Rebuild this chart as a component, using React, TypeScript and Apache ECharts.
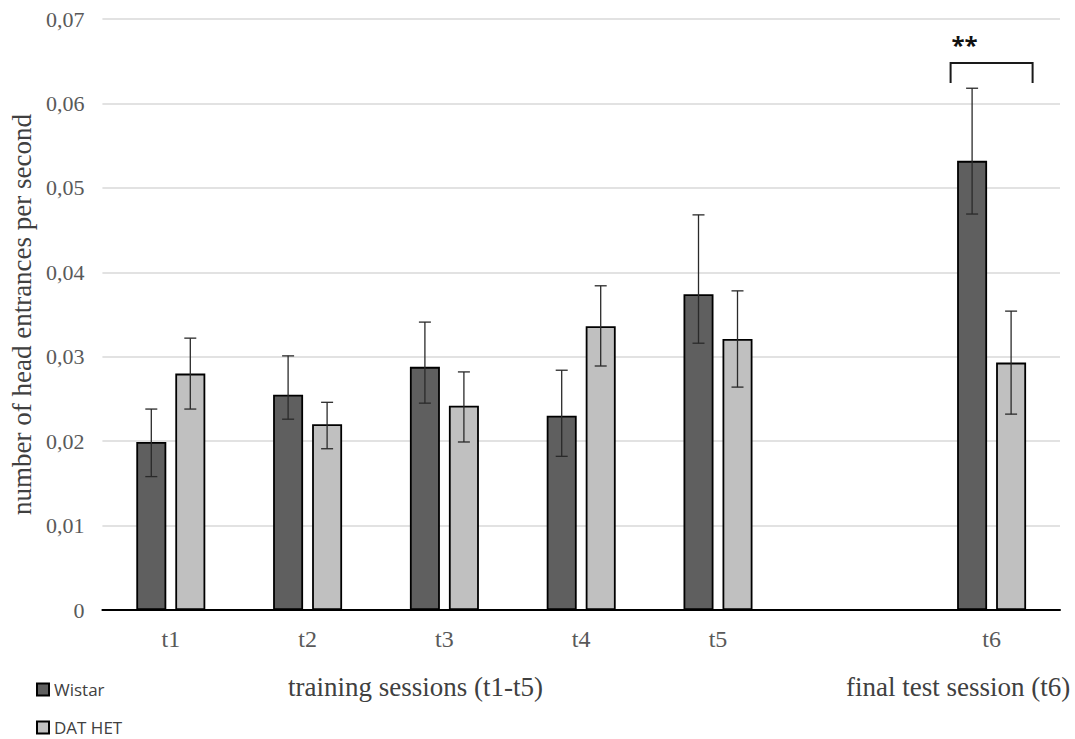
import React, { useEffect, useRef } from "react";
import * as echarts from "echarts";

const categories = ["t1", "t2", "t3", "t4", "t5", "", "t6"];
const wistar = [0.0199, 0.0255, 0.0288, 0.023, 0.0374, null, 0.0532];
const wistarLow = [0.0158, 0.0226, 0.0245, 0.0182, 0.0316, null, 0.0469];
const wistarHigh = [0.0238, 0.0301, 0.0341, 0.0284, 0.0468, null, 0.0618];
const datHet = [0.028, 0.022, 0.0242, 0.0336, 0.0321, null, 0.0293];
const datLow = [0.0238, 0.0191, 0.0199, 0.0289, 0.0264, null, 0.0232];
const datHigh = [0.0322, 0.0246, 0.0282, 0.0384, 0.0378, null, 0.0354];
const yTicks = { min: 0, max: 0.07, interval: 0.01 };
const significance = { category: 6, value: 0.0648, label: "**" };

const SERIF = "'Liberation Serif', 'DejaVu Serif', serif";
const SANS = "'Open Sans', 'Liberation Sans', sans-serif";

function errData(low: (number | null)[], high: (number | null)[]) {
  const out: number[][] = [];
  low.forEach((l, i) => {
    const h = high[i];
    if (l != null && h != null) out.push([i, l, h]);
  });
  return out;
}

function errSeries(name: string, low: (number | null)[], high: (number | null)[], offset: number) {
  return {
    type: "custom",
    name: name + " err",
    silent: true,
    z: 10,
    data: errData(low, high),
    renderItem: (params: any, api: any) => {
      const c = api.value(0);
      const pLow = api.coord([c, api.value(1)]);
      const pHigh = api.coord([c, api.value(2)]);
      const x = pLow[0] + offset;
      const cap = 6;
      const st = { stroke: "#2a2a2a", lineWidth: 1.3 };
      return {
        type: "group",
        children: [
          { type: "line", shape: { x1: x, y1: pLow[1], x2: x, y2: pHigh[1] }, style: st },
          { type: "line", shape: { x1: x - cap, y1: pLow[1], x2: x + cap, y2: pLow[1] }, style: st },
          { type: "line", shape: { x1: x - cap, y1: pHigh[1], x2: x + cap, y2: pHigh[1] }, style: st },
        ],
      };
    },
  };
}

const legendBase = {
  orient: "vertical",
  left: 36,
  padding: 0,
  itemWidth: 12,
  itemHeight: 12,
  icon: "rect",
  textStyle: { fontFamily: SANS, fontSize: 17, color: "#404040" },
};

export default function App() {
  const ref = useRef<HTMLDivElement>(null);
  useEffect(() => {
    if (!ref.current) return;
    const chart = echarts.init(ref.current, undefined, { renderer: "svg" });
    chart.setOption({
      animation: false,
      backgroundColor: "#ffffff",
      grid: { left: 101, right: 15, top: 19, bottom: 129, containLabel: false },
      legend: [
        { ...legendBase, top: 681, data: ["Wistar"] },
        { ...legendBase, top: 719, data: ["DAT HET"] },
      ],
      xAxis: {
        type: "category",
        data: categories,
        axisTick: { show: false },
        axisLine: { lineStyle: { color: "#000", width: 2 } },
        axisLabel: { fontFamily: SERIF, fontSize: 24, color: "#595959", margin: 17 },
        splitLine: { show: false },
      },
      yAxis: {
        type: "value",
        min: yTicks.min,
        max: yTicks.max,
        interval: yTicks.interval,
        name: "number of head entrances per second",
        nameLocation: "middle",
        nameGap: 66,
        nameTextStyle: { fontFamily: SERIF, fontSize: 27, color: "#404040" },
        axisLine: { show: false },
        axisTick: { show: false },
        axisLabel: {
          fontFamily: SERIF,
          fontSize: 22,
          color: "#595959",
          margin: 18,
          formatter: (v: number) => (v === 0 ? "0" : v.toFixed(2).replace(".", ",")),
        },
        splitLine: { lineStyle: { color: "#d9d9d9", width: 1.5 } },
      },
      series: [
        {
          name: "Wistar",
          type: "bar",
          data: wistar,
          barWidth: 30,
          barGap: "30%",
          itemStyle: { color: "#5f5f5f", borderColor: "#000", borderWidth: 1.8 },
        },
        {
          name: "DAT HET",
          type: "bar",
          data: datHet,
          barWidth: 30,
          barGap: "30%",
          itemStyle: { color: "#c0c0c0", borderColor: "#000", borderWidth: 1.8 },
        },
        errSeries("Wistar", wistarLow, wistarHigh, -19.5),
        errSeries("DAT HET", datLow, datHigh, 19.5),
        {
          type: "custom",
          name: "sig",
          silent: true,
          z: 10,
          data: [[significance.category, significance.value]],
          renderItem: (params: any, api: any) => {
            const p = api.coord([api.value(0), api.value(1)]);
            const half = 41;
            const drop = 20;
            return {
              type: "group",
              children: [
                {
                  type: "polyline",
                  shape: {
                    points: [
                      [p[0] - half, p[1] + drop],
                      [p[0] - half, p[1]],
                      [p[0] + half, p[1]],
                      [p[0] + half, p[1] + drop],
                    ],
                  },
                  style: { stroke: "#1a1a1a", lineWidth: 2, fill: "none" },
                },
                {
                  type: "text",
                  style: {
                    text: significance.label,
                    x: p[0] - 27,
                    y: p[1] - 6,
                    textAlign: "center",
                    textVerticalAlign: "bottom",
                    fontFamily: SANS,
                    fontWeight: "bold",
                    fontSize: 24,
                    fill: "#111",
                  },
                },
              ],
            };
          },
        },
      ],
      graphic: [
        {
          type: "text",
          left: 288,
          top: 673,
          style: { text: "training sessions (t1-t5)", fontFamily: SERIF, fontSize: 27, fill: "#404040" },
        },
        {
          type: "text",
          left: 846,
          top: 673,
          style: { text: "final test session (t6)", fontFamily: SERIF, fontSize: 27, fill: "#404040" },
        },
      ],
    });
    return () => chart.dispose();
  }, []);
  return <div ref={ref} style={{ width: 1075, height: 739, position: "absolute", left: 0, top: 0 }} />;
}
